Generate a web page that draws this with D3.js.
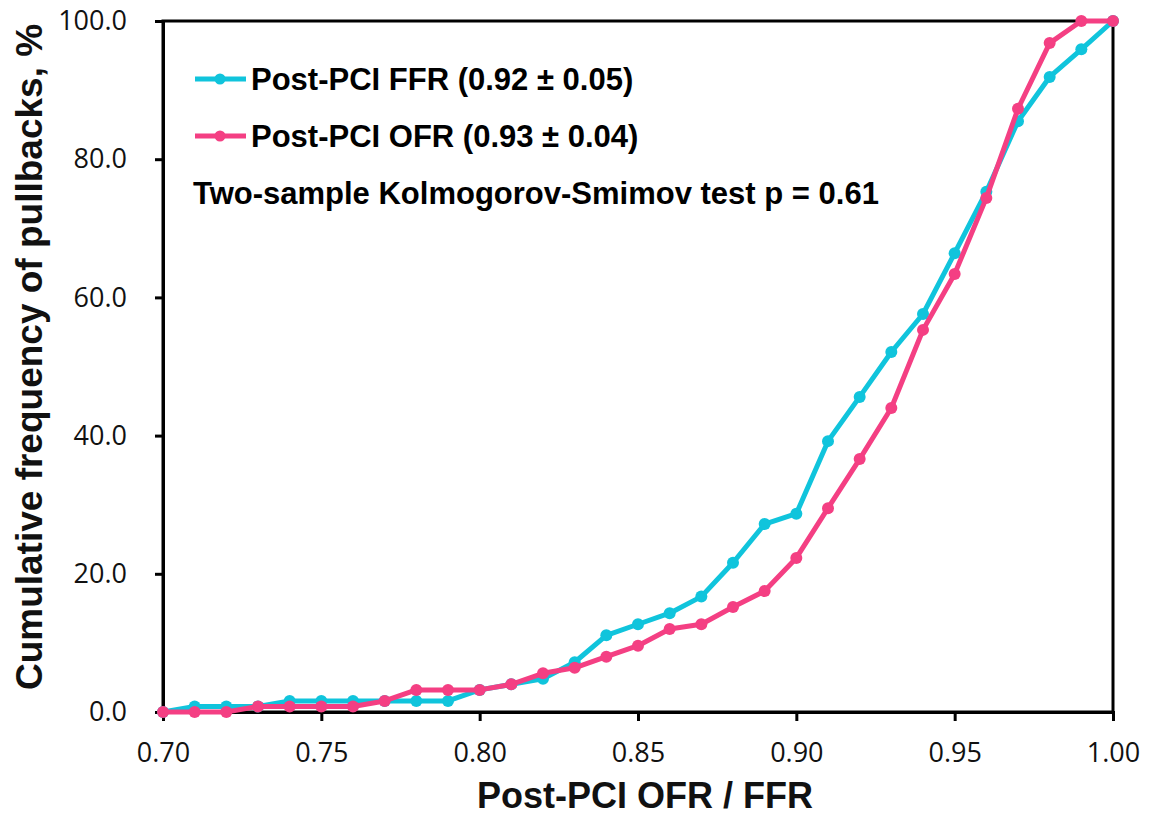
<!DOCTYPE html>
<html>
<head>
<meta charset="utf-8">
<script src="https://cdn.jsdelivr.net/npm/d3@7"></script>
<style>
	body { margin: 0; background: #fff; }
	text { font-family: 'Liberation Sans', Arial, sans-serif; }
</style>
</head>
<body>
<div id="chart"></div>
<script>
const xValues = [0.70, 0.71, 0.72, 0.73, 0.74, 0.75, 0.76, 0.77, 0.78, 0.79, 0.80,
	0.81, 0.82, 0.83, 0.84, 0.85, 0.86, 0.87, 0.88, 0.89, 0.90,
	0.91, 0.92, 0.93, 0.94, 0.95, 0.96, 0.97, 0.98, 0.99, 1.00];
const ffrValues = [0, 0.8, 0.8, 0.8, 1.6, 1.6, 1.6, 1.6, 1.6, 1.6, 3.2,
	4.0, 4.8, 7.2, 11.1, 12.7, 14.3, 16.7, 21.6, 27.2, 28.7,
	39.2, 45.6, 52.1, 57.6, 66.4, 75.3, 85.5, 91.9, 95.9, 100];
const ofrValues = [0, 0, 0, 0.8, 0.8, 0.8, 0.8, 1.6, 3.2, 3.2, 3.2,
	4.0, 5.6, 6.4, 8.0, 9.6, 12.0, 12.7, 15.2, 17.5, 22.3,
	29.5, 36.6, 44.0, 55.3, 63.4, 74.4, 87.3, 96.8, 100, 100];
const xTicks = [0.70, 0.75, 0.80, 0.85, 0.90, 0.95, 1.00];
const yTicks = [0, 20, 40, 60, 80, 100];
const seriesNames = ['Post-PCI FFR (0.92 \u00b1 0.05)', 'Post-PCI OFR (0.93 \u00b1 0.04)'];
const seriesColors = ['#10c4dc', '#f43f83'];
const noteText = 'Two-sample Kolmogorov-Smimov test p = 0.61';

const width = 1149, height = 819;
const margin = {top: 21, right: 36, bottom: 107, left: 163};
const innerW = width - margin.left - margin.right;
const innerH = height - margin.top - margin.bottom;

const svg = d3.select('#chart').append('svg')
	.attr('width', width)
	.attr('height', height);

const g = svg.append('g')
	.attr('transform', `translate(${margin.left},${margin.top})`);

const xScale = d3.scaleLinear().domain([0.70, 1.00]).range([0, innerW]);
const yScale = d3.scaleLinear().domain([0, 100]).range([innerH, 0]);

// frame
g.append('rect')
	.attr('width', innerW)
	.attr('height', innerH)
	.attr('fill', 'none')
	.attr('stroke', '#000')
	.attr('stroke-width', 3);

const xAxis = d3.axisBottom(xScale)
	.tickValues(xTicks)
	.tickFormat(d3.format('.2f'))
	.tickSize(9)
	.tickPadding(22);

const yAxis = d3.axisLeft(yScale)
	.tickValues(yTicks)
	.tickFormat(d3.format('.1f'))
	.tickSize(8)
	.tickPadding(28);

const gx = g.append('g')
	.attr('transform', `translate(0,${innerH})`)
	.call(xAxis);
const gy = g.append('g').call(yAxis);

[gx, gy].forEach(ax => {
	ax.select('.domain').attr('stroke-width', 3);
	ax.selectAll('.tick line').attr('stroke-width', 3);
	ax.selectAll('.tick text')
		.attr('font-size', 27)
		.attr('fill', '#111')
		.style('font-family', "'Open Sans', sans-serif");
});

const series = [ffrValues, ofrValues].map((vals, i) => ({
	name: seriesNames[i],
	color: seriesColors[i],
	points: xValues.map((x, j) => ({x, y: vals[j]}))
}));

const line = d3.line()
	.x(d => xScale(d.x))
	.y(d => yScale(d.y));

series.forEach(s => {
	g.append('path')
		.datum(s.points)
		.attr('fill', 'none')
		.attr('stroke', s.color)
		.attr('stroke-width', 5)
		.attr('stroke-linejoin', 'round')
		.attr('d', line);

	g.selectAll(null)
		.data(s.points)
		.enter()
		.append('circle')
		.attr('cx', d => xScale(d.x))
		.attr('cy', d => yScale(d.y))
		.attr('r', 6)
		.attr('fill', s.color);
});

// legend
const legend = svg.append('g');
series.forEach((s, i) => {
	const ly = 79 + i * 57;
	legend.append('line')
		.attr('x1', 195).attr('x2', 246)
		.attr('y1', ly).attr('y2', ly)
		.attr('stroke', s.color)
		.attr('stroke-width', 5);
	legend.append('circle')
		.attr('cx', 220).attr('cy', ly)
		.attr('r', 5.5)
		.attr('fill', s.color);
	legend.append('text')
		.attr('x', 251).attr('y', ly + 11)
		.attr('font-size', 31)
		.attr('font-weight', 'bold')
		.text(s.name);
});

legend.append('text')
	.attr('x', 193).attr('y', 204)
	.attr('font-size', 31)
	.attr('font-weight', 'bold')
	.text(noteText);

// axis titles
svg.append('text')
	.attr('x', 645)
	.attr('y', 808)
	.attr('text-anchor', 'middle')
	.attr('font-size', 36)
	.attr('font-weight', 'bold')
	.attr('fill', '#111')
	.text('Post-PCI OFR / FFR');

svg.append('text')
	.attr('transform', 'translate(42,357) rotate(-90)')
	.attr('text-anchor', 'middle')
	.attr('font-size', 37)
	.attr('font-weight', 'bold')
	.attr('fill', '#111')
	.text('Cumulative frequency of pullbacks, %');
</script>
</body>
</html>
